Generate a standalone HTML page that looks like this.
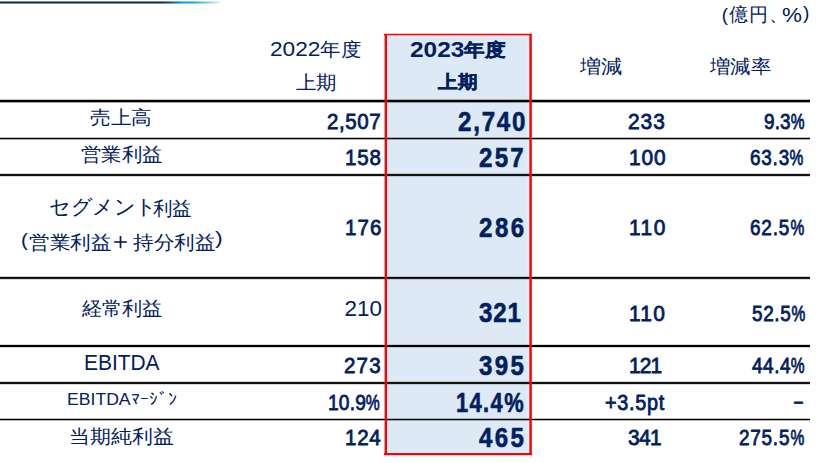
<!DOCTYPE html><html lang="ja"><head><meta charset="utf-8"><style>
*{margin:0;padding:0;box-sizing:border-box}
html,body{width:825px;height:463px;background:#fff;overflow:hidden}
body{position:relative;font-family:"Liberation Sans",sans-serif;color:#002060}
.t{position:absolute;white-space:nowrap;line-height:1;transform-origin:0 0}
.b{font-weight:bold}
.k{-webkit-text-stroke:0.45px #002060}
.k span{-webkit-text-stroke:0}
.m{-webkit-text-stroke:0.8px #002060}
.h{-webkit-text-stroke:0.6px #002060}
</style></head><body>
<div style="position:absolute;left:0;top:1px;width:221px;height:3px;background:linear-gradient(to right,#0a215e 0px,#0a215e 161px,#0a4590 170px,#00a0e4 183px,#14a9e8 194px,#7ccbf1 208px,#cdebfa 218px,rgba(255,255,255,0) 221px);opacity:.5"></div>
<div style="position:absolute;left:0;top:2px;width:221px;height:1px;background:linear-gradient(to right,#0a215e 0px,#0a215e 161px,#0a4590 170px,#00a0e4 183px,#14a9e8 194px,#7ccbf1 208px,#cdebfa 218px,rgba(255,255,255,0) 221px)"></div>
<div style="position:absolute;left:387px;top:35px;width:142px;height:418px;background:#ddeaf6"></div>
<div style="position:absolute;left:387px;top:35px;width:1px;height:418px;background:#d8f2fc"></div>
<div style="position:absolute;left:527px;top:35px;width:2px;height:418px;background:#d8f2fc"></div>
<div style="position:absolute;left:387px;top:452px;width:142px;height:1px;background:#d8f4fc"></div>
<div style="position:absolute;left:0px;top:99px;width:810px;height:4px;background:linear-gradient(to bottom,rgba(0,0,0,0.25) 0px,rgba(0,0,0,0.25) 1px,rgba(0,0,0,1) 1px,rgba(0,0,0,1) 2px,rgba(0,0,0,1) 2px,rgba(0,0,0,1) 3px,rgba(0,0,0,0.35) 3px,rgba(0,0,0,0.35) 4px)"></div>
<div style="position:absolute;left:0px;top:137px;width:810px;height:3px;background:linear-gradient(to bottom,rgba(0,0,0,0.25) 0px,rgba(0,0,0,0.25) 1px,rgba(0,0,0,1) 1px,rgba(0,0,0,1) 2px,rgba(0,0,0,0.3) 2px,rgba(0,0,0,0.3) 3px)"></div>
<div style="position:absolute;left:0px;top:173px;width:810px;height:4px;background:linear-gradient(to bottom,rgba(0,0,0,0.15) 0px,rgba(0,0,0,0.15) 1px,rgba(0,0,0,0.93) 1px,rgba(0,0,0,0.93) 2px,rgba(0,0,0,0.93) 2px,rgba(0,0,0,0.93) 3px,rgba(0,0,0,0.15) 3px,rgba(0,0,0,0.15) 4px)"></div>
<div style="position:absolute;left:0px;top:276px;width:810px;height:4px;background:linear-gradient(to bottom,rgba(0,0,0,0.15) 0px,rgba(0,0,0,0.15) 1px,rgba(0,0,0,1) 1px,rgba(0,0,0,1) 2px,rgba(0,0,0,0.85) 2px,rgba(0,0,0,0.85) 3px,rgba(0,0,0,0.15) 3px,rgba(0,0,0,0.15) 4px)"></div>
<div style="position:absolute;left:0px;top:344px;width:810px;height:4px;background:linear-gradient(to bottom,rgba(0,0,0,0.15) 0px,rgba(0,0,0,0.15) 1px,rgba(0,0,0,1) 1px,rgba(0,0,0,1) 2px,rgba(0,0,0,1) 2px,rgba(0,0,0,1) 3px,rgba(0,0,0,0.15) 3px,rgba(0,0,0,0.15) 4px)"></div>
<div style="position:absolute;left:0px;top:381px;width:810px;height:4px;background:linear-gradient(to bottom,rgba(0,0,0,0.15) 0px,rgba(0,0,0,0.15) 1px,rgba(0,0,0,0.93) 1px,rgba(0,0,0,0.93) 2px,rgba(0,0,0,0.93) 2px,rgba(0,0,0,0.93) 3px,rgba(0,0,0,0.15) 3px,rgba(0,0,0,0.15) 4px)"></div>
<div style="position:absolute;left:0px;top:418px;width:810px;height:3px;background:linear-gradient(to bottom,rgba(0,0,0,0.25) 0px,rgba(0,0,0,0.25) 1px,rgba(0,0,0,1) 1px,rgba(0,0,0,1) 2px,rgba(0,0,0,0.3) 2px,rgba(0,0,0,0.3) 3px)"></div>
<div style="position:absolute;left:384px;top:33px;width:148px;height:3px;background:linear-gradient(to bottom,rgba(255,0,0,0.25) 0px,rgba(255,0,0,0.25) 1px,rgba(255,0,0,1) 1px,rgba(255,0,0,1) 2px,rgba(255,0,0,0.3) 2px,rgba(255,0,0,0.3) 3px)"></div>
<div style="position:absolute;left:384px;top:453px;width:148px;height:3px;background:linear-gradient(to bottom,rgba(255,0,0,1) 0px,rgba(255,0,0,1) 1px,rgba(255,0,0,1) 1px,rgba(255,0,0,1) 2px,rgba(255,0,0,0.2) 2px,rgba(255,0,0,0.2) 3px)"></div>
<div style="position:absolute;left:384px;top:34px;width:3px;height:419px;background:linear-gradient(to right,rgba(255,0,0,0.4) 0px,rgba(255,0,0,0.4) 1px,rgba(255,0,0,1) 1px,rgba(255,0,0,1) 2px,rgba(255,0,0,1) 2px,rgba(255,0,0,1) 3px)"></div>
<div style="position:absolute;left:529px;top:34px;width:3px;height:419px;background:linear-gradient(to right,rgba(255,0,0,0.7) 0px,rgba(255,0,0,0.7) 1px,rgba(255,0,0,1) 1px,rgba(255,0,0,1) 2px,rgba(255,0,0,0.8) 2px,rgba(255,0,0,0.8) 3px)"></div>
<div class="t" style="left:721.82px;top:6.32px;font-size:18.50px;letter-spacing:0.96px;">(億円、</div>
<div class="t" style="left:781.84px;top:4.96px;font-size:20.50px;transform:scaleX(1.0936);">%</div>
<div class="t" style="left:803.02px;top:4.39px;font-size:18.50px;transform:scaleX(1.0421);">)</div>
<div class="t" style="left:270.38px;top:38.36px;font-size:18.80px;transform:scaleX(1.0757);"><span style="font-size:21px">2022</span>年度</div>
<div class="t" style="left:296.02px;top:73.78px;font-size:18.80px;transform:scaleX(1.0771);">上期</div>
<div class="t b k" style="left:410.40px;top:38.62px;font-size:17.60px;transform:scaleX(1.1403);"><span style="font-size:21.4px;position:relative;top:1.3px">2023</span>年度</div>
<div class="t b k" style="left:438.44px;top:73.96px;font-size:17.60px;transform:scaleX(1.0871);">上期</div>
<div class="t" style="left:580.02px;top:57.84px;font-size:18.80px;transform:scaleX(1.1121);">増減</div>
<div class="t" style="left:709.56px;top:57.84px;font-size:18.80px;transform:scaleX(1.0737);">増減率</div>
<div class="t" style="left:90.30px;top:109.34px;font-size:18.80px;transform:scaleX(1.0850);">売上高</div>
<div class="t" style="left:81.40px;top:145.84px;font-size:18.80px;transform:scaleX(1.0720);">営業利益</div>
<div class="t" style="left:49.34px;top:197.27px;font-size:20.50px;letter-spacing:-0.48px;">セグメント</div>
<div class="t" style="left:153.48px;top:199.76px;font-size:18.80px;transform:scaleX(1.0258);">利益</div>
<div class="t" style="left:21.34px;top:230.82px;font-size:18.50px;transform:scaleX(1.1156);">(</div>
<div class="t" style="left:29.34px;top:234.32px;font-size:18.80px;transform:scaleX(1.0817);">営業利益</div>
<div class="t" style="left:108.46px;top:228.82px;font-size:24.00px;transform:scaleX(1.0329);">＋</div>
<div class="t" style="left:132.50px;top:233.78px;font-size:18.80px;transform:scaleX(1.0816);">持分利益</div>
<div class="t" style="left:215.36px;top:229.33px;font-size:18.50px;transform:scaleX(1.2573);">)</div>
<div class="t" style="left:81.54px;top:300.26px;font-size:18.80px;transform:scaleX(1.0610);">経常利益</div>
<div class="t" style="left:83.66px;top:352.98px;font-size:21.50px;transform:scaleX(0.9733);">EBITDA</div>
<div class="t" style="left:66.82px;top:390.85px;font-size:17.00px;transform:scaleX(1.0356);">EBITDAﾏｰｼﾞﾝ</div>
<div class="t" style="left:69.14px;top:427.84px;font-size:18.80px;transform:scaleX(1.1020);">当期純利益</div>
<div class="t m" style="left:327.34px;top:110.89px;font-size:22.30px;letter-spacing:0.62px;transform:scaleX(0.9200);">2,507</div>
<div class="t m" style="left:345.34px;top:146.87px;font-size:22.30px;letter-spacing:0.85px;transform:scaleX(0.9200);">158</div>
<div class="t m" style="left:345.34px;top:216.87px;font-size:22.30px;letter-spacing:1.24px;transform:scaleX(0.9200);">176</div>
<div class="t" style="left:344.38px;top:298.16px;font-size:22.40px;letter-spacing:0.06px;">210</div>
<div class="t m" style="left:344.34px;top:354.87px;font-size:22.30px;letter-spacing:1.30px;transform:scaleX(0.9200);">273</div>
<div class="t m" style="left:328.34px;top:391.87px;font-size:22.30px;letter-spacing:0.24px;transform:scaleX(0.8600);">10.9<span style="display:inline-block;transform:scaleX(.82);transform-origin:0 0">%</span></div>
<div class="t m" style="left:345.34px;top:426.87px;font-size:22.30px;letter-spacing:0.78px;transform:scaleX(0.9200);">124</div>
<div class="t b h" style="left:457.52px;top:107.86px;font-size:28.00px;letter-spacing:2.06px;transform:scaleX(0.8600);">2,740</div>
<div class="t b h" style="left:478.98px;top:144.36px;font-size:28.00px;letter-spacing:2.65px;transform:scaleX(0.8600);">257</div>
<div class="t b h" style="left:478.98px;top:214.38px;font-size:28.00px;letter-spacing:2.93px;transform:scaleX(0.8600);">286</div>
<div class="t b h" style="left:478.98px;top:299.34px;font-size:28.00px;letter-spacing:0.98px;transform:scaleX(0.8600);">321</div>
<div class="t b h" style="left:478.98px;top:352.36px;font-size:28.00px;letter-spacing:2.79px;transform:scaleX(0.8600);">395</div>
<div class="t b h" style="left:456.28px;top:388.82px;font-size:28.00px;letter-spacing:1.81px;transform:scaleX(0.7800);">14.4%</div>
<div class="t b h" style="left:478.98px;top:424.34px;font-size:28.00px;letter-spacing:2.79px;transform:scaleX(0.8600);">465</div>
<div class="t m" style="left:628.38px;top:110.92px;font-size:22.00px;letter-spacing:1.01px;transform:scaleX(0.9500);">233</div>
<div class="t m" style="left:629.32px;top:146.90px;font-size:22.00px;letter-spacing:0.88px;transform:scaleX(0.9500);">100</div>
<div class="t m" style="left:629.32px;top:216.94px;font-size:22.00px;letter-spacing:1.58px;transform:scaleX(0.9500);">110</div>
<div class="t m" style="left:629.34px;top:302.90px;font-size:22.00px;letter-spacing:1.33px;transform:scaleX(0.9500);">110</div>
<div class="t m" style="left:629.32px;top:354.90px;font-size:22.00px;letter-spacing:-0.88px;transform:scaleX(0.9500);">121</div>
<div class="t m" style="left:605.28px;top:392.48px;font-size:22.00px;letter-spacing:0.80px;transform:scaleX(0.9000);">+3.5pt</div>
<div class="t m" style="left:628.44px;top:426.92px;font-size:22.00px;letter-spacing:-0.63px;transform:scaleX(0.9500);">341</div>
<div class="t m" style="left:764.02px;top:110.90px;font-size:22.00px;letter-spacing:0.14px;transform:scaleX(0.8600);">9.3<span style="display:inline-block;transform:scaleX(.82);transform-origin:0 0">%</span></div>
<div class="t m" style="left:750.36px;top:147.48px;font-size:22.00px;letter-spacing:0.91px;transform:scaleX(0.8600);">63.3<span style="display:inline-block;transform:scaleX(.82);transform-origin:0 0">%</span></div>
<div class="t m" style="left:750.38px;top:216.94px;font-size:22.00px;letter-spacing:0.94px;transform:scaleX(0.8600);">62.5<span style="display:inline-block;transform:scaleX(.82);transform-origin:0 0">%</span></div>
<div class="t m" style="left:751.56px;top:303.48px;font-size:22.00px;letter-spacing:0.73px;transform:scaleX(0.8600);">52.5<span style="display:inline-block;transform:scaleX(.82);transform-origin:0 0">%</span></div>
<div class="t m" style="left:751.56px;top:355.48px;font-size:22.00px;letter-spacing:0.63px;transform:scaleX(0.8600);">44.4<span style="display:inline-block;transform:scaleX(.82);transform-origin:0 0">%</span></div>
<div class="t m" style="left:788.68px;top:391.06px;font-size:22.00px;transform:scaleX(0.8546);">－</div>
<div class="t m" style="left:738.98px;top:427.46px;font-size:22.00px;letter-spacing:0.89px;transform:scaleX(0.8600);">275.5<span style="display:inline-block;transform:scaleX(.82);transform-origin:0 0">%</span></div>
</body></html>
